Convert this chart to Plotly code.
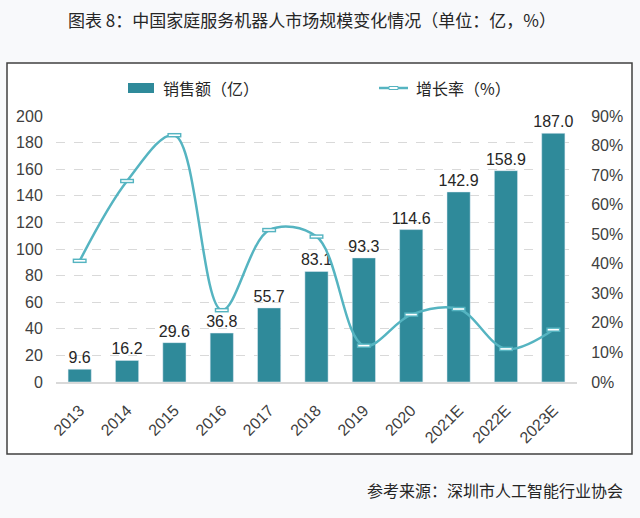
import plotly.graph_objects as go

years = ["2013", "2014", "2015", "2016", "2017", "2018", "2019", "2020", "2021E", "2022E", "2023E"]
sales = [9.6, 16.2, 29.6, 36.8, 55.7, 83.1, 93.3, 114.6, 142.9, 158.9, 187.0]
growth = [41.0, 68.0, 83.5, 24.3, 51.4, 49.2, 12.3, 22.8, 24.7, 11.2, 17.7]

title_text = "图表 8：中国家庭服务机器人市场规模变化情况（单位：亿，%）"
bar_name = "销售额（亿）"
line_name = "增长率（%）"
source_text = "参考来源：深圳市人工智能行业协会"

BAR_C = "#2F8A9A"
LINE_C = "#55B4C1"
FONT = "Liberation Sans, Noto Sans CJK SC, sans-serif"
CJK = "Noto Sans CJK SC, sans-serif"

# plot area geometry (pixels)
L, R, T, B = 56, 63, 116, 136
W, H = 640, 518
pw, ph = W - L - R, H - T - B


def px(x):
    return (x - L) / pw


def py(y):
    return (H - B - y) / ph


fig = go.Figure()
fig.add_trace(go.Bar(
    x=years, y=sales, name=bar_name, marker_color=BAR_C, width=0.49,
    text=[f"{v:.1f}" for v in sales], textposition="outside", cliponaxis=False,
    constraintext="none",
    textfont=dict(size=16, color="#262626", family=FONT), showlegend=False,
))
fig.add_trace(go.Scatter(
    x=years, y=growth, name=line_name, yaxis="y2", mode="lines+markers",
    line=dict(color=LINE_C, width=2.5, shape="spline", smoothing=1.0),
    marker=dict(symbol="line-ew", size=10, line=dict(color=LINE_C, width=4.5)),
    showlegend=False, cliponaxis=False,
))
fig.add_trace(go.Scatter(
    x=years, y=growth, yaxis="y2", mode="markers",
    marker=dict(symbol="line-ew", size=8, line=dict(color="white", width=1.6)),
    showlegend=False, hoverinfo="skip", cliponaxis=False,
))

shapes = [
    dict(type="rect", xref="paper", yref="paper", x0=px(7), x1=px(632), y0=py(454), y1=py(63),
         line=dict(color="#404040", width=1.5), fillcolor="white", layer="below"),
    dict(type="rect", xref="paper", yref="paper", x0=px(128), x1=px(154), y0=py(93), y1=py(83),
         line=dict(width=0), fillcolor=BAR_C),
    dict(type="line", xref="paper", yref="paper", x0=px(379), x1=px(408), y0=py(88), y1=py(88),
         line=dict(color=LINE_C, width=2.5)),
    dict(type="rect", xref="paper", yref="paper", x0=px(389), x1=px(398), y0=py(89.5), y1=py(86.5),
         line=dict(color=LINE_C, width=1), fillcolor="white"),
]

annotations = [
    dict(text=bar_name, xref="paper", yref="paper", x=px(161), y=py(88), xanchor="left", yanchor="middle",
         showarrow=False, font=dict(size=16, color="#262626", family=CJK)),
    dict(text=line_name, xref="paper", yref="paper", x=px(414), y=py(88), xanchor="left", yanchor="middle",
         showarrow=False, font=dict(size=16, color="#262626", family=CJK)),
    dict(text=source_text, xref="paper", yref="paper", x=px(625), y=py(490), xanchor="right", yanchor="middle",
         showarrow=False, font=dict(size=16, color="#262626", family=CJK)),
]

fig.update_layout(
    width=W, height=H,
    margin=dict(l=L, r=R, t=T, b=B, autoexpand=False),
    paper_bgcolor="#F8F9FB", plot_bgcolor="white",
    title=dict(text=title_text, x=312 / W, y=1 - 21 / H, xanchor="center", yanchor="middle",
               font=dict(size=17, color="#262626", family=CJK)),
    font=dict(family=FONT, color="#404040", size=16),
    showlegend=False, bargap=0.5,
    shapes=shapes, annotations=annotations,
    xaxis=dict(type="category", tickangle=-45, showline=True, linecolor="#D9D9D9", linewidth=1.5,
               ticks="outside", ticklen=11, tickcolor="rgba(0,0,0,0)", tickfont=dict(size=16, color="#404040"),
               showgrid=False, range=[-0.5, 10.5]),
    yaxis=dict(range=[0, 200], dtick=20, showgrid=True, gridcolor="#D9D9D9", griddash="dash", gridwidth=1,
               zeroline=False, ticks="outside", ticklen=9, tickcolor="rgba(0,0,0,0)",
               tickfont=dict(size=16, color="#404040")),
    yaxis2=dict(range=[0, 90], dtick=10, overlaying="y", side="right", showgrid=False, zeroline=False,
                ticksuffix="%", ticks="outside", ticklen=10, tickcolor="rgba(0,0,0,0)",
                tickfont=dict(size=16, color="#404040")),
)

fig.write_html("out.html", config={"displayModeBar": False},
               post_script="document.body.style.margin='0';")
